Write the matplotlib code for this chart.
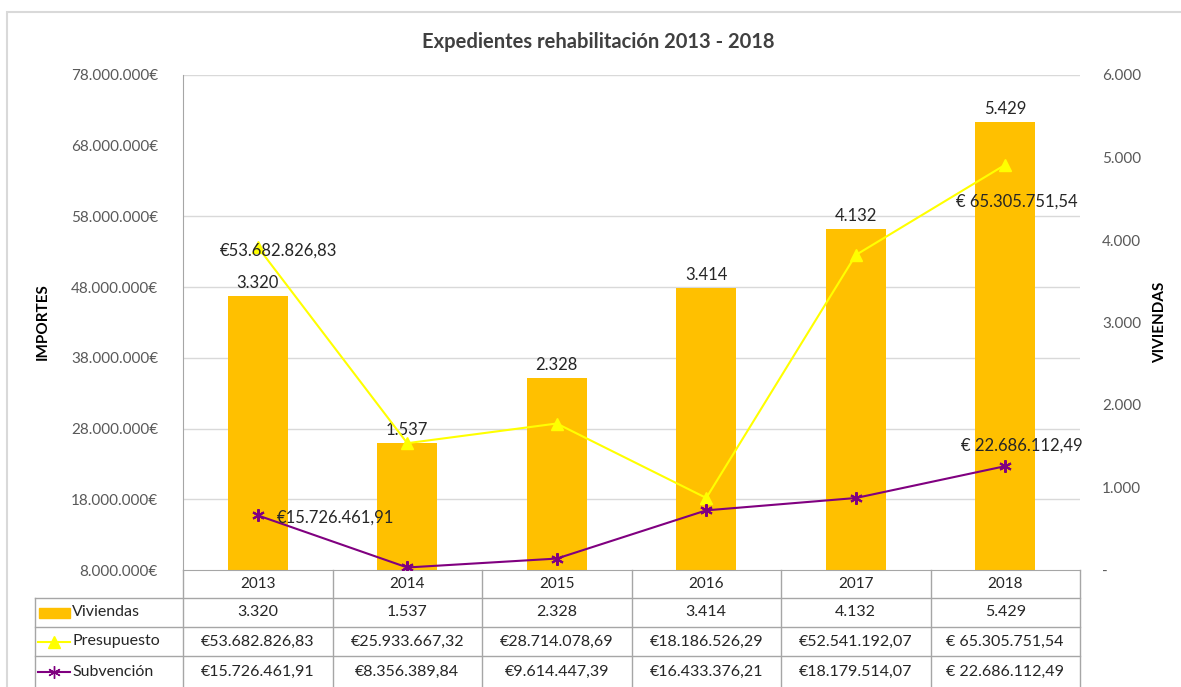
import matplotlib
matplotlib.use("Agg")
import matplotlib.pyplot as plt
import matplotlib.transforms as mtransforms
from matplotlib.patches import Rectangle
from matplotlib.lines import Line2D

# ---------------- data ----------------
years = ["2013", "2014", "2015", "2016", "2017", "2018"]
viviendas = [3320, 1537, 2328, 3414, 4132, 5429]
presupuesto = [53682826.83, 25933667.32, 28714078.69, 18186526.29, 52541192.07, 65305751.54]
subvencion = [15726461.91, 8356389.84, 9614447.39, 16433376.21, 18179514.07, 22686112.49]
left_ticks = [8e6, 18e6, 28e6, 38e6, 48e6, 58e6, 68e6, 78e6]
grid_ticks = [18e6, 28e6, 38e6, 48e6, 58e6, 78e6]
right_ticks = [0, 1000, 2000, 3000, 4000, 5000, 6000]
series_names = ["Viviendas", "Presupuesto", "Subvención"]
title = "Expedientes rehabilitación 2013 - 2018"

W, H = 1181, 687
FONT = ["Lato", "DejaVu Sans"]
plt.rcParams["font.family"] = FONT

C_BAR = "#FFC000"
C_PRES = "#FFFF00"
C_SUB = "#800080"
C_TICK = "#595959"
C_TXT = "#262626"
C_GRID = "#D9D9D9"
C_TAB = "#A6A6A6"


def thousands(v):
    return f"{v:,.0f}".replace(",", ".")


def euro(v, sep=""):
    s = f"{v:,.2f}".replace(",", "X").replace(".", ",").replace("X", ".")
    return "€" + sep + s


def fx(x):
    return x / W


def fy(y):
    return 1 - y / H


fig = plt.figure(figsize=(W / 100, H / 100), dpi=100)
fig.patch.set_facecolor("white")

# outer chart border
fig.patches.append(Rectangle((fx(7), fy(700)), fx(1200) - fx(7), fy(12) - fy(700),
                             transform=fig.transFigure, fill=False,
                             edgecolor="#D9D9D9", linewidth=1.5))

L, R, T, B = 183, 1080, 75, 570
ax = fig.add_axes([fx(L), fy(B), fx(R) - fx(L), fy(T) - fy(B)])
ax2 = ax.twinx()

x = list(range(len(years)))

# bars (right axis)
ax.bar(x, viviendas, width=0.4, color=C_BAR, zorder=2)
ax.set_ylim(0, 6000)
ax.set_xlim(-0.5, len(years) - 0.5)
ax.yaxis.tick_right()
ax.yaxis.set_label_position("right")
ax.set_yticks(right_ticks)
ax.set_yticklabels(["-" if v == 0 else thousands(v) for v in right_ticks])
for lab in ax.get_yticklabels():
    lab.set_horizontalalignment("left")
ax.tick_params(axis="y", length=0, pad=16, labelsize=11, labelcolor=C_TICK)
ax.set_xticks([])

# gridlines behind bars (left-axis scale)
blend = mtransforms.blended_transform_factory(ax.transAxes, ax2.transData)
for g in grid_ticks:
    ax.add_line(Line2D([0, 1], [g, g], transform=blend, color=C_GRID, lw=1, zorder=1))

for i, v in enumerate(viviendas):
    ax.annotate(thousands(v), (i, v), xytext=(0, 5), textcoords="offset pixels",
                ha="center", va="bottom", fontsize=12, color=C_TXT)

# lines (left axis)
ax2.plot(x, presupuesto, color=C_PRES, lw=1.5, marker="^", markersize=8, zorder=3)
ax2.plot(x, subvencion, color=C_SUB, lw=1.5, marker=(6, 2, 0), markersize=9,
         markeredgewidth=1.5, zorder=3)
ax2.set_ylim(8e6, 78e6)
ax2.yaxis.tick_left()
ax2.yaxis.set_label_position("left")
ax2.set_yticks(left_ticks)
ax2.set_yticklabels([thousands(v) + "€" for v in left_ticks])
ax2.tick_params(axis="y", length=0, pad=18, labelsize=11, labelcolor=C_TICK)

# line data labels
ax2.annotate(euro(presupuesto[0]), (0, presupuesto[0]), xytext=(21, -4),
             textcoords="offset pixels", ha="center", va="center", fontsize=12, color=C_TXT)
ax2.annotate(euro(presupuesto[5], " "), (5, presupuesto[5]), xytext=(12, -37),
             textcoords="offset pixels", ha="center", va="center", fontsize=12, color=C_TXT)
ax2.annotate(euro(subvencion[0]), (0, subvencion[0]), xytext=(19, -2),
             textcoords="offset pixels", ha="left", va="center", fontsize=12, color=C_TXT)
ax2.annotate(euro(subvencion[5], " "), (5, subvencion[5]), xytext=(17, 21),
             textcoords="offset pixels", ha="center", va="center", fontsize=12, color=C_TXT)

for a in (ax, ax2):
    for s in ("top", "right", "left", "bottom"):
        a.spines[s].set_visible(False)
    a.set_facecolor("none")
ax2.spines["left"].set_visible(True)
ax2.spines["left"].set_color("#A6A6A6")
ax2.spines["bottom"].set_visible(True)
ax2.spines["bottom"].set_color("#A6A6A6")

# axis titles
fig.text(fx(43), fy(322), "IMPORTES", rotation=90, ha="center", va="center",
         fontsize=11, fontweight="bold", color="black")
fig.text(fx(1160), fy(322), "VIVIENDAS", rotation=90, ha="center", va="center",
         fontsize=11, fontweight="bold", color="black")

# title
fig.text(fx(598), fy(42), title, ha="center", va="center", fontsize=14.5,
         fontweight="bold", color="#404040")

# ---------------- data table ----------------
col_w = (R - L) / len(years)
rows_y = [570, 598, 627, 656, 687]


def hline(y, x0, x1):
    fig.lines.append(Line2D([fx(x0), fx(x1)], [fy(y), fy(y)], transform=fig.transFigure,
                            color=C_TAB, lw=1))


def vline(x0, y0, y1):
    fig.lines.append(Line2D([fx(x0), fx(x0)], [fy(y0), fy(y1)], transform=fig.transFigure,
                            color=C_TAB, lw=1))


hline(598, 35, R)
hline(627, 35, R)
hline(656, 35, R)
vline(35, 598, 687)
for j in range(len(years) + 1):
    vline(L + j * col_w, 570, 687)

row_texts = [
    [thousands(v) for v in viviendas],
    [euro(v, " " if i == 5 else "") for i, v in enumerate(presupuesto)],
    [euro(v, " " if i == 5 else "") for i, v in enumerate(subvencion)],
]
for j, yr in enumerate(years):
    cx = L + (j + 0.5) * col_w
    fig.text(fx(cx), fy(584), yr, ha="center", va="center", fontsize=11, color=C_TXT)
    for r in range(3):
        cy = (rows_y[r + 1] + rows_y[r + 2]) / 2
        fig.text(fx(cx), fy(cy), row_texts[r][j], ha="center", va="center",
                 fontsize=11.5, color=C_TXT)

# legend keys in table
cys = [(rows_y[r + 1] + rows_y[r + 2]) / 2 for r in range(3)]
fig.patches.append(Rectangle((fx(39), fy(cys[0] + 5)), fx(70) - fx(39), fy(cys[0] - 5) - fy(cys[0] + 5),
                             transform=fig.transFigure, color=C_BAR))
fig.lines.append(Line2D([fx(38), fx(54), fx(70)], [fy(cys[1])] * 3, transform=fig.transFigure,
                        color=C_PRES, lw=1.5, marker="^", markersize=8, markevery=[1]))
fig.lines.append(Line2D([fx(38), fx(54), fx(70)], [fy(cys[2])] * 3, transform=fig.transFigure,
                        color=C_SUB, lw=1.5, marker=(6, 2, 0), markersize=9,
                        markeredgewidth=1, markevery=[1]))
for r, name in enumerate(series_names):
    fig.text(fx(72), fy(cys[r]), name, ha="left", va="center", fontsize=11.5, color=C_TXT)

fig.savefig("out.png", dpi=100, facecolor="white")
